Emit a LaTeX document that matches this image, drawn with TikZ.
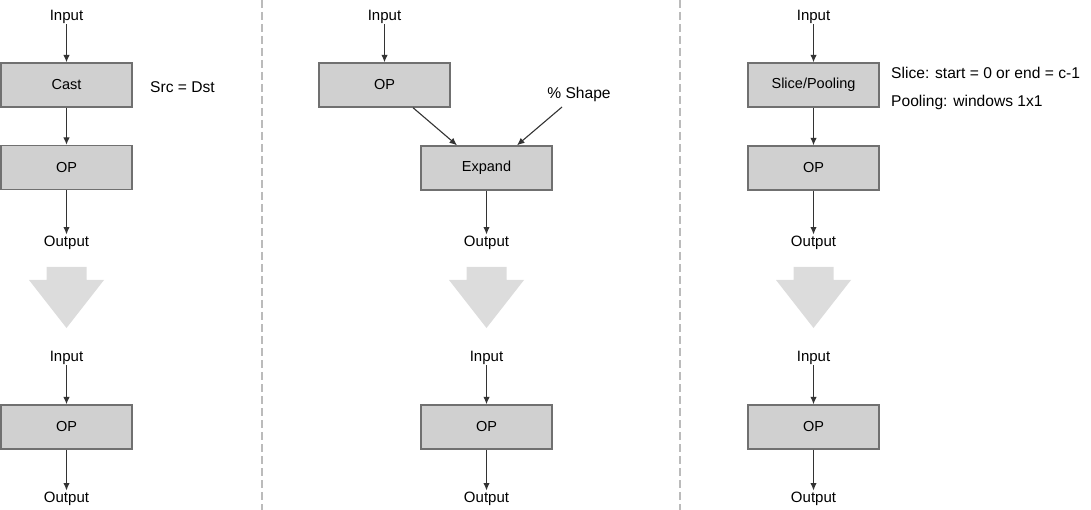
\documentclass[tikz,border=0pt]{standalone}
\usepackage{fontspec}
\setmainfont{Liberation Sans}
\usetikzlibrary{arrows.meta,calc}
\definecolor{boxfill}{HTML}{D0D0D0}
\definecolor{boxline}{HTML}{707070}
\definecolor{bigarrow}{HTML}{DCDCDC}
\definecolor{sepline}{HTML}{BBBBBB}
\definecolor{arrcol}{HTML}{333333}
\tikzset{
  opbox/.style={draw=boxline, fill=boxfill, line width=1.4pt, minimum width=131pt, minimum height=44pt, inner sep=0pt, font=\fontsize{14.5}{16}\selectfont},
  iotext/.style={inner sep=1pt, font=\fontsize{15}{17}\selectfont},
  sidetext/.style={inner sep=0pt, font=\fontsize{15.6}{18}\selectfont},
  arr/.style={draw=arrcol, line width=1.1pt, -{Latex[length=7.5pt,width=6.5pt]}},
  sep/.style={draw=sepline, line width=2.5pt, dash pattern=on 8pt off 4pt},
}
\newcommand{\bigdown}[1]{%
  \fill[bigarrow] (#1-20,267) -- (#1+20,267) -- (#1+20,280) -- (#1+37.5,280) -- (#1,328) -- (#1-37.5,280) -- (#1-20,280) -- cycle;}
\begin{document}
\begin{tikzpicture}[x=1pt,y=-1pt]
\useasboundingbox (0,0) rectangle (1091,510);
% separators
\draw[sep] (262,0) -- (262,510);
\draw[sep] (680,0) -- (680,510);

% ---------- panel 1 ----------
\node[iotext] (in1) at (66.5,16.5) {Input};
\node[opbox] (cast1) at (66.5,85) {Cast};
\node[opbox] (op1) at (66.5,167.5) {OP};
\node[iotext] (out1) at (66.5,242.5) {Output};
\node[sidetext, anchor=west] (src1) at (150,87) {Src = Dst};
\draw[arr] (in1) -- (cast1);
\draw[arr] (cast1) -- (op1);
\draw[arr] (op1) -- (out1);
\bigdown{66.5}
\node[iotext] (in1b) at (66.5,357.5) {Input};
\node[opbox] (op1b) at (66.5,427) {OP};
\node[iotext] (out1b) at (66.5,498.5) {Output};
\draw[arr] (in1b) -- (op1b);
\draw[arr] (op1b) -- (out1b);

% ---------- panel 2 ----------
\node[iotext] (in2) at (384.5,16.5) {Input};
\node[opbox] (op2) at (384.5,85) {OP};
\node[opbox] (exp2) at (486.5,168) {Expand};
\node[iotext] (out2) at (486.5,242.5) {Output};
\node[sidetext] (shape2) at (579,94) {\% Shape};
\coordinate (shp) at (562,107);
\draw[arr] (in2) -- (op2);
\draw[arr] ([xshift=28.5pt]op2.south) -- ([xshift=-29.5pt]exp2.north);
\draw[arr] (shp) -- ([xshift=30.5pt]exp2.north);
\draw[arr] (exp2) -- (out2);
\bigdown{486.5}
\node[iotext] (in2b) at (486.5,357.5) {Input};
\node[opbox] (op2b) at (486.5,427) {OP};
\node[iotext] (out2b) at (486.5,498.5) {Output};
\draw[arr] (in2b) -- (op2b);
\draw[arr] (op2b) -- (out2b);

% ---------- panel 3 ----------
\node[iotext] (in3) at (813.5,16.5) {Input};
\node[opbox] (sl3) at (813.5,85) {Slice/Pooling};
\node[opbox] (op3) at (813.5,168) {OP};
\node[iotext] (out3) at (813.5,242.5) {Output};
\node[sidetext, anchor=west] (t3a) at (891,73) {Slice: start = 0 or end = c-1};
\node[sidetext, anchor=west] (t3b) at (891,102) {Pooling: windows 1x1};
\draw[arr] (in3) -- (sl3);
\draw[arr] (sl3) -- (op3);
\draw[arr] (op3) -- (out3);
\bigdown{813.5}
\node[iotext] (in3b) at (813.5,357.5) {Input};
\node[opbox] (op3b) at (813.5,427) {OP};
\node[iotext] (out3b) at (813.5,498.5) {Output};
\draw[arr] (in3b) -- (op3b);
\draw[arr] (op3b) -- (out3b);
\end{tikzpicture}
\end{document}
